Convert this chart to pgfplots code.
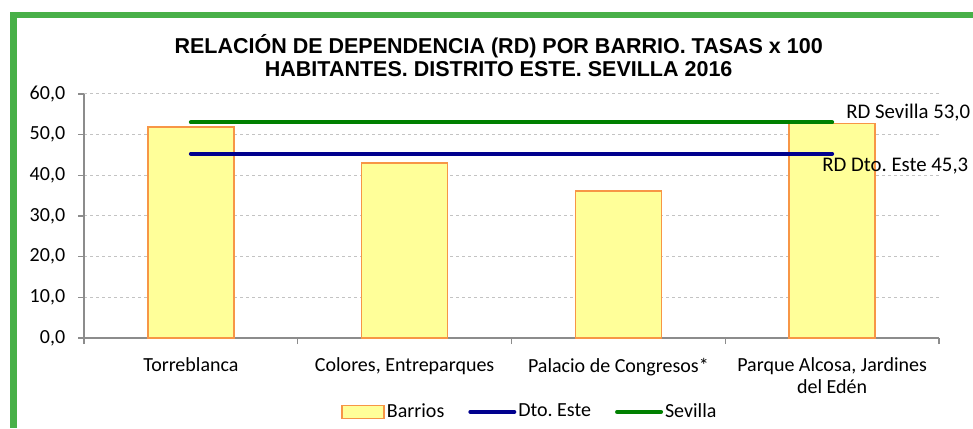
\documentclass[border=0pt]{standalone}
\usepackage{fontspec}
\setmainfont{Carlito}
\newfontfamily\titlefont{Liberation Sans}
\usepackage{pgfplots}
\pgfplotsset{compat=1.18}
\definecolor{frame}{RGB}{72,176,72}
\definecolor{barfill}{RGB}{255,255,153}
\definecolor{baredge}{RGB}{247,150,70}
\definecolor{dtoblue}{RGB}{0,0,142}
\definecolor{sevgreen}{RGB}{0,128,0}
\definecolor{gridgray}{RGB}{195,195,195}
\definecolor{axgray}{RGB}{140,140,140}
\frenchspacing
\begin{document}
\frenchspacing
\fontsize{20pt}{22pt}\selectfont
\begin{tikzpicture}
\path[use as bounding box] (0,0) rectangle (973pt,428pt);
\fill[white] (0,0) rectangle (973pt,428pt);
\fill[frame] (10pt,0) rectangle (17pt,416pt);
\fill[frame] (10pt,410pt) rectangle (973pt,416pt);
\begin{axis}[
  at={(84pt,90pt)}, anchor=south west,
  scale only axis, width=855pt, height=244pt,
  xmin=-0.5, xmax=3.5, ymin=0, ymax=60,
  ytick={0,10,...,60},
  yticklabel style={xshift=-6pt, /pgf/number format/fixed, /pgf/number format/fixed zerofill, /pgf/number format/precision=1, /pgf/number format/use comma},
  /pgf/number format/assume math mode=true,
  ymajorgrids, grid style={gridgray, dashed, line width=1pt},
  axis x line*=bottom, axis y line*=left,
  axis line style={axgray, line width=1.2pt},
  tick style={axgray, line width=1.2pt},
  tick align=outside, major tick length=6pt,
  xtick={-0.5,0.5,1.5,2.5,3.5}, xticklabels={},
  extra x ticks={0,1,2,3},
  extra x tick labels={Torreblanca,{Colores, Entreparques},{Palacio de Congresos*},{Parque Alcosa, Jardines\\del Edén}},
  extra x tick style={major tick length=0pt, xticklabel style={align=center, anchor=north, yshift=-13pt, font=\fontsize{20pt}{22pt}\selectfont}},
  ticklabel style={font=\fontsize{20pt}{22pt}\selectfont, text=black},
  title={\titlefont\bfseries RELACIÓN DE DEPENDENCIA (RD) POR BARRIO. TASAS x 100\\\titlefont\bfseries HABITANTES. DISTRITO ESTE. SEVILLA 2016},
  title style={at={(axis description cs:0.485,1.133)}, anchor=center, align=center, font=\fontsize{21.5pt}{22.5pt}\selectfont},
  legend style={at={(axis description cs:0.5216,-0.303)}, anchor=center, draw=none, fill=none,
    legend columns=3, font=\fontsize{20pt}{22pt}\selectfont,
    /tikz/every even column/.append style={column sep=22pt},
    nodes={inner sep=2pt}},
  clip=false,
]
\addplot[ybar, bar width=86pt, fill=barfill, draw=baredge, line width=1.5pt,
  legend image code/.code={\draw[fill=barfill, draw=baredge, line width=1.5pt] (0pt,-6.5pt) rectangle (42pt,6.5pt);}]
  coordinates {(0,51.9) (1,43.0) (2,36.1) (3,52.7)};
\addlegendentry{Barrios}
\addplot[dtoblue, line width=4pt, line cap=round, mark=none,
  legend image code/.code={\draw[dtoblue, line width=4pt] (0pt,0pt) -- (44pt,0pt);}]
  coordinates {(0,45.3) (3,45.3)};
\addlegendentry{Dto. Este}
\addplot[sevgreen, line width=4pt, line cap=round, mark=none,
  legend image code/.code={\draw[sevgreen, line width=4pt] (0pt,0pt) -- (44pt,0pt);}]
  coordinates {(0,53.0) (3,53.0)};
\addlegendentry{Sevilla}
\node[anchor=west, inner sep=0pt, font=\fontsize{20.8pt}{22pt}\selectfont] at ([xshift=14pt,yshift=10pt]axis cs:3,53) {RD Sevilla 53,0};
\node[anchor=west, inner sep=0pt, font=\fontsize{20.8pt}{22pt}\selectfont] at ([xshift=-10pt,yshift=-12pt]axis cs:3,45.3) {RD Dto. Este 45,3};
\end{axis}
\end{tikzpicture}
\end{document}
